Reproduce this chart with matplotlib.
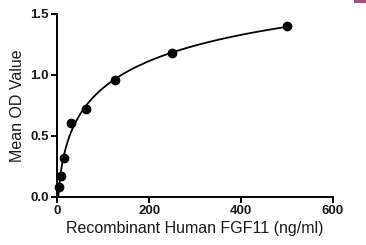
import numpy as np
import matplotlib
matplotlib.use("Agg")
import matplotlib.pyplot as plt
from matplotlib.patches import Rectangle

# standard curve points
conc = [3.9, 7.8, 15.6, 31.25, 62.5, 125, 250, 500]
od = [0.08, 0.17, 0.32, 0.61, 0.72, 0.96, 1.18, 1.40]

x_ticks = [0, 200, 400, 600]
y_ticks = [0.0, 0.5, 1.0, 1.5]


def fit_4pl(x, y):
    # grid search over slope / midpoint, linear least squares for the asymptotes
    x = np.asarray(x, float)
    y = np.asarray(y, float)
    best = None
    for b in np.linspace(0.3, 2.5, 111):
        for c in np.geomspace(5, 5000, 300):
            g = 1.0 / (1.0 + (x / c) ** b)
            A = np.column_stack([g, 1 - g])
            coef, *_ = np.linalg.lstsq(A, y, rcond=None)
            err = np.sum((A @ coef - y) ** 2)
            if best is None or err < best[0]:
                best = (err, b, c, coef)
    _, b, c, (a, d) = best
    return lambda t: d + (a - d) / (1.0 + (t / c) ** b)


plt.rcParams["font.family"] = ["Liberation Sans", "DejaVu Sans"]

fig = plt.figure(figsize=(3.66, 2.45), dpi=100)
ax = fig.add_axes([0.156, 0.196, 0.754, 0.747])

model = fit_4pl(conc, od)
xs = np.linspace(1.5, 500, 600)
ax.plot(xs, model(xs), color="black", lw=1.3, zorder=2)
ax.plot(conc, od, "o", color="black", ms=6, zorder=3, clip_on=False)

ax.set_xlim(0, 600)
ax.set_ylim(0, 1.5)
ax.set_xticks(x_ticks)
ax.set_yticks(y_ticks)
ax.set_xticklabels([str(v) for v in x_ticks], fontweight="bold", fontsize=9.5, color="#1a1a1a")
ax.set_yticklabels([f"{v:.1f}" for v in y_ticks], fontweight="bold", fontsize=9.5, color="#1a1a1a")
ax.set_xlabel("Recombinant Human FGF11 (ng/ml)", fontsize=11.5, color="#1a1a1a", labelpad=3)
ax.set_ylabel("Mean OD Value", fontsize=11.5, color="#1a1a1a", labelpad=4)

for side in ("top", "right"):
    ax.spines[side].set_visible(False)
for side in ("left", "bottom"):
    ax.spines[side].set_linewidth(1.4)
ax.tick_params(width=1.4, length=4, direction="out", pad=2)

# small magenta mark at top right corner
fig.patches.append(Rectangle((0.967, 0.988), 0.033, 0.012, transform=fig.transFigure,
                             color="#b0468f", lw=0))

fig.savefig("out.png", dpi=100)
